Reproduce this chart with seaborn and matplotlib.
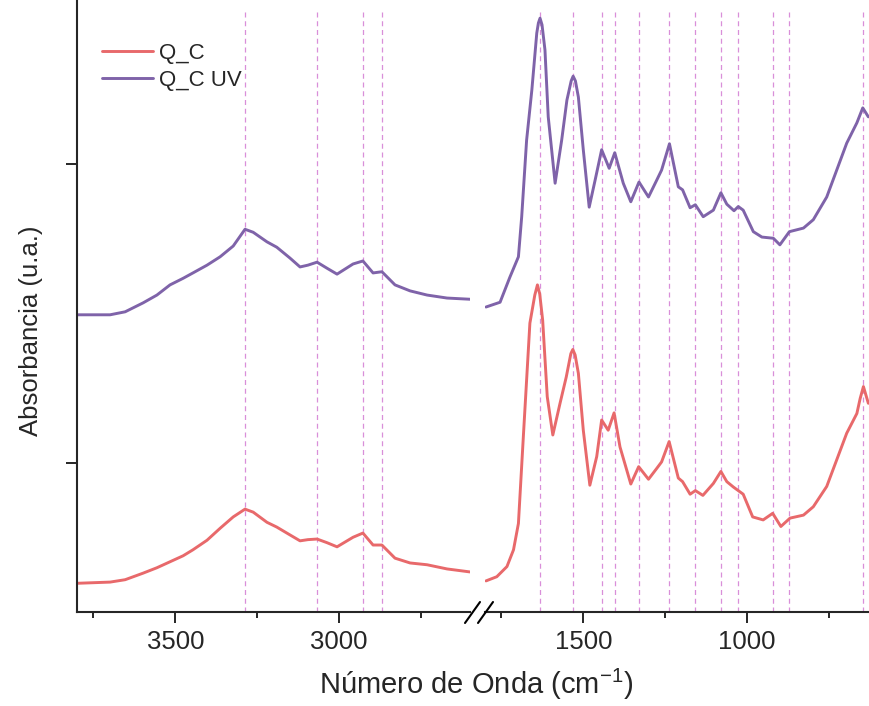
import numpy as np
import pandas as pd
import matplotlib.pyplot as plt
from matplotlib.lines import Line2D
import seaborn as sns

sns.set_style('ticks')
plt.rcParams['font.family'] = ['Liberation Sans', 'DejaVu Sans']
plt.rcParams['mathtext.fontset'] = 'custom'
plt.rcParams['mathtext.rm'] = 'Liberation Sans'
plt.rcParams['mathtext.it'] = 'Liberation Sans'

red = '#E8696B'
purple = '#7F63A9'
guide = '#D98FD9'

# --- data ---
# high wavenumber segment 3800-2600
wn_hi = [3800, 3699, 3653, 3598, 3556, 3516, 3476, 3446, 3403, 3363, 3323,
         3287, 3262, 3220, 3190, 3150, 3119, 3095, 3067, 3037, 3006, 2957,
         2927, 2896, 2869, 2829, 2783, 2731, 2670, 2600]
qc_hi = [0.048, 0.050, 0.054, 0.065, 0.074, 0.084, 0.094, 0.104, 0.120, 0.140,
         0.159, 0.172, 0.167, 0.150, 0.142, 0.129, 0.119, 0.121, 0.122, 0.116,
         0.109, 0.125, 0.132, 0.112, 0.112, 0.090, 0.082, 0.079, 0.072, 0.067]
qcuv_hi = [0.497, 0.497, 0.502, 0.517, 0.530, 0.547, 0.558, 0.567, 0.580, 0.594,
           0.612, 0.640, 0.635, 0.619, 0.610, 0.592, 0.577, 0.580, 0.585, 0.575,
           0.565, 0.582, 0.587, 0.567, 0.569, 0.547, 0.537, 0.530, 0.525, 0.523]

# fingerprint segment 1800-630
wn_lo_qc = [1797, 1764, 1733, 1713, 1698, 1683, 1663, 1648, 1640, 1633, 1624,
            1610, 1593, 1571, 1552, 1538, 1532, 1525, 1515, 1500, 1480, 1459,
            1444, 1424, 1406, 1388, 1355, 1331, 1301, 1276, 1261, 1238, 1210,
            1197, 1174, 1158, 1135, 1103, 1080, 1062, 1042, 1012, 983, 951, 922,
            897, 869, 828, 798, 757, 696, 665, 655, 645, 630]
qc_lo = [0.052, 0.059, 0.076, 0.104, 0.148, 0.293, 0.483, 0.530, 0.547, 0.532,
         0.488, 0.360, 0.296, 0.349, 0.393, 0.432, 0.439, 0.430, 0.399, 0.304,
         0.212, 0.260, 0.321, 0.304, 0.333, 0.276, 0.214, 0.243, 0.222, 0.240,
         0.251, 0.285, 0.224, 0.218, 0.197, 0.203, 0.195, 0.215, 0.235, 0.218,
         0.209, 0.197, 0.159, 0.154, 0.165, 0.143, 0.157, 0.162, 0.176, 0.210,
         0.299, 0.332, 0.357, 0.377, 0.349]

wn_lo_uv = [1797, 1754, 1724, 1698, 1688, 1673, 1657, 1642, 1637, 1632, 1626,
            1617, 1607, 1586, 1566, 1550, 1537, 1531, 1524, 1515, 1500, 1482,
            1464, 1444, 1421, 1404, 1378, 1355, 1330, 1301, 1276, 1261, 1237,
            1210, 1197, 1174, 1158, 1134, 1103, 1080, 1062, 1040, 1027, 1012,
            981, 955, 920, 900, 871, 828, 798, 757, 696, 665, 647, 630]
qcuv_lo = [0.510, 0.518, 0.560, 0.594, 0.661, 0.789, 0.873, 0.968, 0.985, 0.993,
           0.982, 0.940, 0.828, 0.717, 0.789, 0.856, 0.888, 0.896, 0.888, 0.861,
           0.773, 0.677, 0.722, 0.773, 0.742, 0.768, 0.717, 0.686, 0.719, 0.694,
           0.722, 0.739, 0.783, 0.711, 0.706, 0.676, 0.681, 0.661, 0.672, 0.701,
           0.682, 0.671, 0.678, 0.672, 0.636, 0.627, 0.625, 0.614, 0.636, 0.642,
           0.656, 0.694, 0.784, 0.818, 0.843, 0.828]

marks_hi = [3287, 3067, 2927, 2869]
marks_lo = [1632, 1531, 1443, 1403, 1330, 1238, 1159, 1080, 1028, 921, 872, 646]

# --- figure ---
W, H = 869, 706
fig = plt.figure(figsize=(W / 100, H / 100), dpi=100)
ax1 = fig.add_axes([77 / W, 94 / H, (470 - 77) / W, 612 / H])
ax2 = fig.add_axes([485 / W, 94 / H, (869 - 485) / W, 612 / H], sharey=ax1)

kw = dict(lw=2.1, sort=False, estimator=None, solid_joinstyle='round', solid_capstyle='round')
sns.lineplot(x=wn_hi, y=qc_hi, ax=ax1, color=red, label='Q_C', **kw)
sns.lineplot(x=wn_hi, y=qcuv_hi, ax=ax1, color=purple, label='Q_C UV', **kw)
sns.lineplot(x=wn_lo_qc, y=qc_lo, ax=ax2, color=red, legend=False, **kw)
sns.lineplot(x=wn_lo_uv, y=qcuv_lo, ax=ax2, color=purple, legend=False, **kw)

for w in marks_hi:
    ax1.axvline(w, ymax=0.985, color=guide, lw=0.9, ls=(0, (4, 3)), zorder=0)
for w in marks_lo:
    ax2.axvline(w, ymax=0.985, color=guide, lw=0.9, ls=(0, (4, 3)), zorder=0)

ax1.set_xlim(3800, 2600)
ax2.set_xlim(1800, 628)
ax1.set_ylim(0, 612 / 598)

ax1.set_xticks([3500, 3000])
ax1.set_xticks([3750, 3250, 2750], minor=True)
ax2.set_xticks([1500, 1000])
ax2.set_xticks([1750, 1250, 750], minor=True)
ax1.set_yticks([0.25, 0.75])
ax1.set_yticklabels([])

for ax in (ax1, ax2):
    ax.tick_params(which='major', length=8, width=1.4, labelsize=18.5, direction='out', pad=5)
    ax.tick_params(which='minor', length=4.5, width=1.4, direction='out')
    ax.spines['top'].set_visible(False)
    ax.spines['right'].set_visible(False)
    ax.spines['bottom'].set_linewidth(1.5)
    ax.spines['left'].set_linewidth(1.5)
    ax.set_xlabel('')
    ax.set_ylabel('')
ax2.spines['left'].set_visible(False)
ax2.tick_params(axis='y', left=False, labelleft=False)

# break marks
for x0 in (465, 478):
    fig.add_artist(Line2D([x0 / W, (x0 + 15) / W], [1 - 623 / H, 1 - 602 / H],
                          color='black', lw=1.5))

fig.text(476 / W, 1 - 684 / H, 'Número de Onda (cm$^{-1}$)', ha='center', va='center', fontsize=21)
fig.text(31 / W, 1 - 331 / H, 'Absorbancia (u.a.)', ha='center', va='center', rotation=90, fontsize=18.5)

ax1.legend(loc='upper left', bbox_to_anchor=(0.04, 0.945), frameon=False, fontsize=16,
           handlelength=2.3, handletextpad=0.3, labelspacing=0.3, borderaxespad=0)

fig.savefig('out.png', dpi=100)
